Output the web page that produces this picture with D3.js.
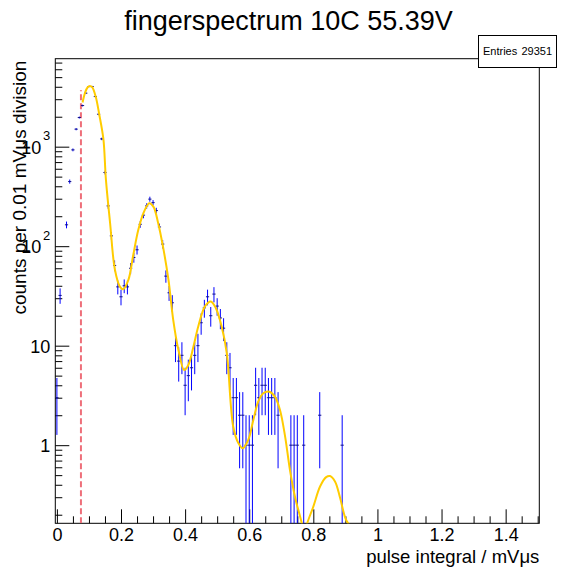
<!DOCTYPE html>
<html>
<head>
<meta charset="utf-8">
<script src="https://cdn.jsdelivr.net/npm/d3@7"></script>
<style>
  body { margin: 0; background: #fff; }
  text { font-family: "Liberation Sans", Arial, Helvetica, sans-serif; }
</style>
</head>
<body>
<svg id="chart" width="573" height="572"></svg>
<script>
// histogram: counts per 0.01 bin, first bin centred at 0
const binWidth = 0.01
const counts = [
    3, 32, 0, 164, 446, 929, 1500, 1963, 2590, 3450,
    4020, 4020, 3190, 2120, 1197, 550, 254, 127, 64, 39,
    31, 40, 39, 60, 77, 92, 166, 205, 254, 297,
    274, 228, 156, 105, 50, 34, 27, 10, 7, 8,
    4, 5, 6, 8, 10, 17, 24, 31, 20, 33,
    25, 19, 15, 8, 6, 3, 3, 2, 2, 1,
    1, 1, 4, 3, 4, 4, 3, 3, 3, 2,
    0, 0, 0, 1, 1, 1, 0, 1, 0, 0,
    0, 0, 2, 0, 0, 0, 0, 0, 0, 1
]

// fit curve
const fitX = [0.080, 0.088, 0.096, 0.103, 0.110, 0.121, 0.132, 0.145, 0.153, 0.166,
    0.181, 0.197, 0.207, 0.223, 0.238, 0.254, 0.270, 0.288, 0.301, 0.316,
    0.332, 0.348, 0.363, 0.379, 0.397, 0.410, 0.426, 0.441, 0.462, 0.480,
    0.496, 0.514, 0.530, 0.550, 0.566, 0.580, 0.597, 0.613, 0.628, 0.644,
    0.663, 0.680, 0.696, 0.712, 0.727, 0.743, 0.764, 0.772, 0.781, 0.800,
    0.821, 0.840, 0.852, 0.868, 0.883, 0.902, 0.918]
const fitY = [2785, 3500, 3960, 4080, 3960, 3190, 2120, 1195, 463, 170,
    58, 39, 37, 45.8, 81, 146, 215, 270, 250, 170,
    95, 46, 18.1, 9.1, 5.7, 6.4, 9.8, 15.6, 24.8, 27.8,
    23.8, 15.6, 8.4, 1.54, 1.05, 0.93, 1.13, 1.8, 2.74, 3.33,
    3.45, 3.08, 2.26, 1.22, 0.565, 0.30, 0.164, 0.12, 0.164, 0.241,
    0.384, 0.477, 0.49, 0.43, 0.30, 0.178, 0.15]

const cutX = 0.075
const cutTop = 3700

const xMajor = [0, 0.2, 0.4, 0.6, 0.8, 1, 1.2, 1.4]
const yMajor = [1, 10, 100, 1000]
const yLabels = ['1', '10', '10|2', '10|3']

const entries = 29351
const title = 'fingerspectrum 10C 55.39V'
const xTitle = 'pulse integral / mV\u03bcs'
const yTitle = 'counts per 0.01 mV\u03bcs division'

const frame = { left: 55.3, right: 539.3, top: 58.7, bottom: 523.3 }

const svg = d3.select('#chart')

const x = d3.scaleLinear()
    .domain([-0.005, 1.505])
    .range([frame.left, frame.right])

const y = d3.scaleLog()
    .domain([0.164, 7660])
    .range([frame.bottom, frame.top])

svg.append('defs').append('clipPath')
    .attr('id', 'plot-clip')
    .append('rect')
    .attr('x', frame.left)
    .attr('y', frame.top)
    .attr('width', frame.right - frame.left)
    .attr('height', frame.bottom - frame.top)

// frame
svg.append('rect')
    .attr('x', frame.left)
    .attr('y', frame.top)
    .attr('width', frame.right - frame.left)
    .attr('height', frame.bottom - frame.top)
    .attr('fill', 'none')
    .attr('stroke', '#000')
    .attr('stroke-width', 1)

// x axis
const xMinor = d3.range(0, 1.501, 0.05).filter(v => !xMajor.some(m => Math.abs(m - v) < 1e-6))

svg.append('g')
    .attr('transform', `translate(0,${frame.bottom})`)
    .call(d3.axisBottom(x).tickValues(xMinor).tickSize(-7).tickFormat(''))
    .call(g => g.select('.domain').remove())

svg.append('g')
    .attr('transform', `translate(0,${frame.bottom})`)
    .call(d3.axisBottom(x).tickValues(xMajor).tickSize(-14).tickPadding(5).tickFormat(d3.format('')))
    .call(g => g.select('.domain').remove())
    .call(g => g.selectAll('text').attr('font-size', 18).attr('fill', '#000'))

// y axis
const yMinor = []
;[0.1, 1, 10, 100, 1000].forEach(dec => {
    for (let k = 2; k <= 9; k++) {
        const v = dec * k
        if (v >= y.domain()[0] && v <= y.domain()[1]) yMinor.push(v)
    }
})

svg.append('g')
    .attr('transform', `translate(${frame.left},0)`)
    .call(d3.axisLeft(y).tickValues(yMinor).tickSize(-7).tickFormat(''))
    .call(g => g.select('.domain').remove())

const yAxis = svg.append('g')
    .attr('transform', `translate(${frame.left},0)`)
    .call(d3.axisLeft(y).tickValues(yMajor).tickSize(-14).tickPadding(5).tickFormat(''))
    .call(g => g.select('.domain').remove())

yAxis.selectAll('.tick').each(function (d, i) {
    const parts = yLabels[i].split('|')
    const t = d3.select(this).select('text')
        .attr('font-size', 18)
        .attr('fill', '#000')
        .attr('dy', '0.36em')
    if (parts.length > 1) {
        t.attr('x', -14)
        t.append('tspan').text(parts[0])
        d3.select(this).append('text')
            .attr('x', -5)
            .attr('y', -7)
            .attr('text-anchor', 'end')
            .attr('font-size', 13)
            .attr('fill', '#000')
            .text(parts[1])
    } else {
        t.text(parts[0])
    }
})

const plot = svg.append('g').attr('clip-path', 'url(#plot-clip)')

// cut line
plot.append('line')
    .attr('x1', x(cutX))
    .attr('x2', x(cutX))
    .attr('y1', frame.bottom)
    .attr('y2', y(cutTop))
    .attr('stroke', '#ee6f7a')
    .attr('stroke-width', 2)
    .attr('stroke-dasharray', '6,3')

// data points with error bars
const bins = counts.map((c, i) => ({ x: i * binWidth, c }))
    .filter(d => d.c > 0)

const yc = v => v <= y.domain()[0] ? frame.bottom + 2 : y(v)

plot.selectAll('line.err')
    .data(bins)
    .join('line')
    .attr('class', 'err')
    .attr('x1', d => x(d.x))
    .attr('x2', d => x(d.x))
    .attr('y1', d => yc(d.c - Math.sqrt(d.c)))
    .attr('y2', d => y(d.c + Math.sqrt(d.c)))
    .attr('stroke', '#0000ff')
    .attr('stroke-width', 1)

plot.selectAll('line.xerr')
    .data(bins)
    .join('line')
    .attr('class', 'xerr')
    .attr('x1', d => x(d.x - binWidth / 2))
    .attr('x2', d => x(d.x + binWidth / 2))
    .attr('y1', d => y(d.c))
    .attr('y2', d => y(d.c))
    .attr('stroke', '#10108a')
    .attr('stroke-width', 1)

// fit
const fitPts = fitX.map((v, i) => [v, fitY[i]])
plot.append('path')
    .datum(fitPts)
    .attr('d', d3.line()
        .x(d => x(d[0]))
        .y(d => y(d[1]))
        .curve(d3.curveCatmullRom))
    .attr('fill', 'none')
    .attr('stroke', '#ffcc00')
    .attr('stroke-width', 2)

// titles
svg.append('text')
    .attr('x', 288.5)
    .attr('y', 30)
    .attr('text-anchor', 'middle')
    .attr('font-size', 27)
    .text(title)

svg.append('text')
    .attr('x', frame.right)
    .attr('y', 563)
    .attr('text-anchor', 'end')
    .attr('font-size', 18.5)
    .text(xTitle)

svg.append('text')
    .attr('transform', `translate(26,${frame.top + 2}) rotate(-90)`)
    .attr('text-anchor', 'end')
    .attr('font-size', 19)
    .text(yTitle)

// stats box
const box = svg.append('g')
box.append('rect')
    .attr('x', 478.5)
    .attr('y', 35.5)
    .attr('width', 78)
    .attr('height', 32)
    .attr('fill', '#fff')
    .attr('stroke', '#000')
box.append('text')
    .attr('x', 483)
    .attr('y', 55)
    .attr('font-size', 11)
    .text('Entries')
box.append('text')
    .attr('x', 552)
    .attr('y', 55)
    .attr('text-anchor', 'end')
    .attr('font-size', 11)
    .text(entries)
</script>
</body>
</html>
